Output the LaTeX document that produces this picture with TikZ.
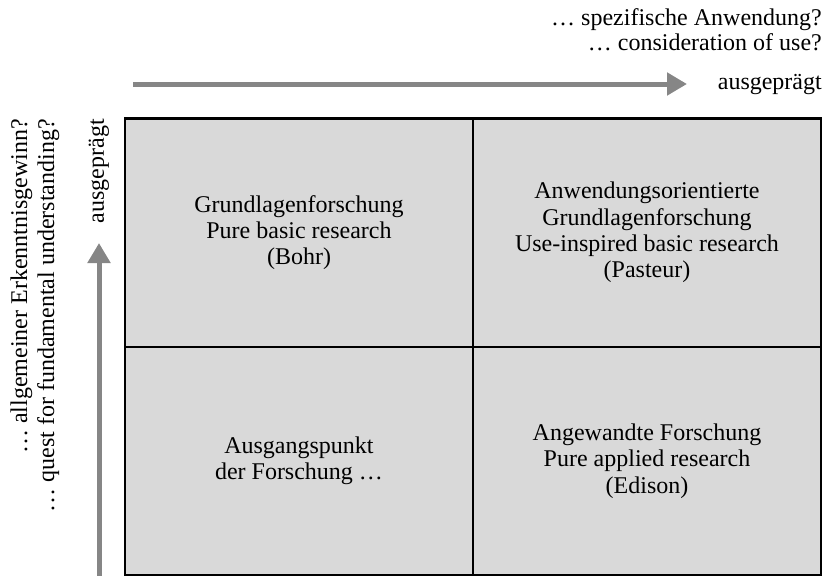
\documentclass[tikz,border=0pt]{standalone}
\usepackage{fontspec}
\setmainfont{Liberation Serif}
\usetikzlibrary{arrows.meta}
\definecolor{cellgray}{HTML}{D9D9D9}
\definecolor{axisgray}{HTML}{868686}
\tikzset{
  txt/.style={inner sep=0pt, font=\fontsize{24}{27}\selectfont},
  cell/.style={draw=black, line width=2.5pt, fill=cellgray, minimum width=348pt, minimum height=228.5pt, align=center, inner sep=0pt, font=\fontsize{24}{26.3}\selectfont},
  axis/.style={draw=axisgray, line width=5pt, -{Triangle[length=20pt,width=22pt]}}
}
\begin{document}
\begin{tikzpicture}[x=1pt,y=-1pt]
\useasboundingbox (0,0) rectangle (831,576);
% grid cells
\node[cell] (tl) at (299,232.5) {Grundlagenforschung\\Pure basic research\\(Bohr)};
\node[cell] (tr) at (647,232.5) {Anwendungsorientierte\\Grundlagenforschung\\Use-inspired basic research\\(Pasteur)};
\node[cell] (bl) at (299,461) {Ausgangspunkt\\der Forschung …};
\node[cell] (br) at (647,461) {Angewandte Forschung\\Pure applied research\\(Edison)};
% horizontal axis
\coordinate (hs) at (133,84);
\coordinate (he) at (687,84);
\draw[axis] (hs) -- (he);
\node[txt, anchor=base east] (h1) at (822,25) {… spezifische Anwendung?};
\node[txt, anchor=base east] (h2) at (822,50) {… consideration of use?};
\node[txt, anchor=base east] (hx) at (822,89) {ausgeprägt};
% vertical axis
\coordinate (vs) at (99,576);
\coordinate (ve) at (99,243);
\draw[axis] (vs) -- (ve);
\node[txt, rotate=90, anchor=east] (vx) at (99,119) {ausgeprägt};
\node[txt, rotate=90, anchor=east, align=right] (vq) at (35,119) {… allgemeiner Erkenntnisgewinn?\\… quest for fundamental understanding?};
\end{tikzpicture}
\end{document}
